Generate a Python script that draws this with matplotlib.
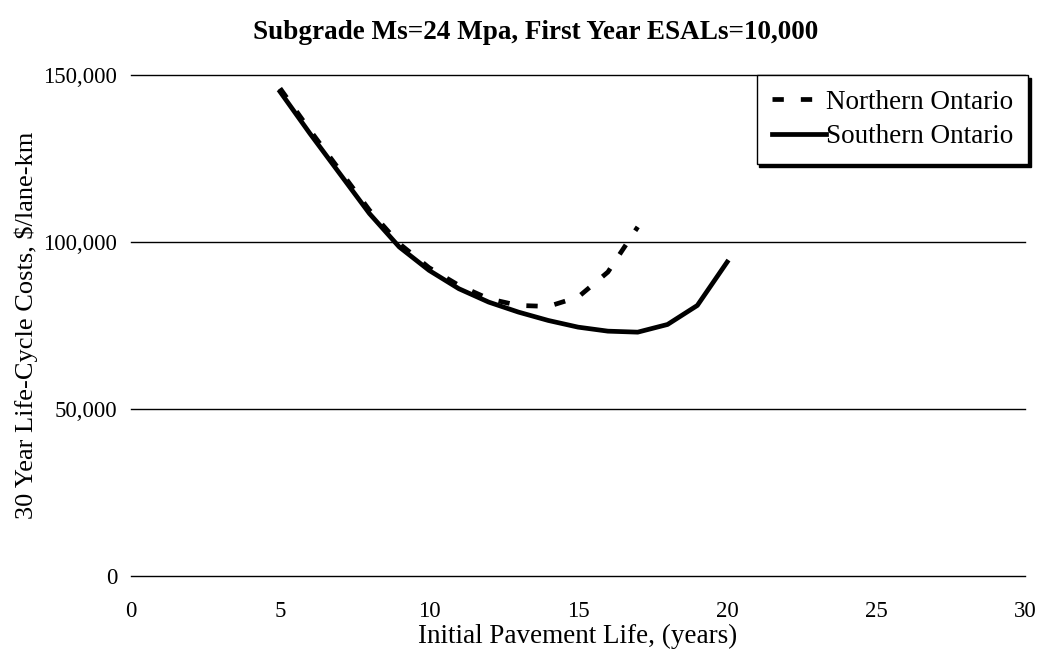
import numpy as np
from matplotlib import use
use('Agg')
from matplotlib import pyplot as plt
from matplotlib.ticker import FuncFormatter

# values ($/lane-km)
years_south = [5, 6, 7, 8, 9, 10, 11, 12, 13, 14, 15, 16, 17, 18, 19, 20]
cost_south = [145000, 132500, 120500, 108500, 98500, 91500, 86000, 82000,
              79000, 76500, 74500, 73300, 73000, 75300, 81000, 94000]

years_north = [5, 6, 7, 8, 9, 10, 11, 12, 13, 14, 15, 16, 17]
cost_north = [146000, 133500, 121500, 109500, 99500, 92300, 87000, 83000,
              81000, 80700, 83500, 91000, 104500]

x_ticks = [0, 5, 10, 15, 20, 25, 30]
y_ticks = [0, 50000, 100000, 150000]

plt.rcParams['font.family'] = 'Liberation Serif'

fig = plt.figure(figsize=(10.44, 6.61), dpi=100)
ax = fig.add_axes([0.1255, 0.1286, 0.8565, 0.758])

ax.plot(years_north, cost_north, color='black', lw=3.4, ls=(0, (2.4, 3.6)),
        label='Northern Ontario', zorder=3)
ax.plot(years_south, cost_south, color='black', lw=3.4, ls='-',
        label='Southern Ontario', zorder=3)

ax.set_xlim(0, 30)
ax.set_ylim(0, 150000)
ax.set_xticks(x_ticks)
ax.set_yticks(y_ticks)
ax.yaxis.set_major_formatter(FuncFormatter(lambda v, p: '{:,.0f}'.format(v)))
ax.grid(axis='y', color='black', lw=1.0)
ax.set_axisbelow(True)
for s in ax.spines.values():
    s.set_visible(False)
ax.tick_params(length=0, labelsize=16.5)
ax.tick_params(axis='y', pad=10)
ax.tick_params(axis='x', pad=18)

ax.set_xlabel('Initial Pavement Life, (years)', fontsize=19.5, labelpad=1)
ax.set_ylabel('30 Year Life-Cycle Costs, $/lane-km', fontsize=19, labelpad=4)
fig.suptitle('Subgrade Ms=24 Mpa, First Year ESALs=10,000', fontsize=19.5,
             fontweight='bold', x=0.513, y=0.97)

leg = ax.legend(loc='upper right', bbox_to_anchor=(1.003, 1.0), fontsize=19.5,
                frameon=True, fancybox=False, edgecolor='black',
                shadow={'color': 'black', 'alpha': 1}, handlelength=2.0,
                handletextpad=0.0, borderpad=0.55, labelspacing=0.35,
                borderaxespad=0)
leg.get_frame().set_linewidth(1)

# keep the 0 and 150,000 grid lines whole at the axes edges
fig.canvas.draw()
for gl in ax.yaxis.get_gridlines():
    gl.set_clip_on(False)

plt.savefig('out.png')
